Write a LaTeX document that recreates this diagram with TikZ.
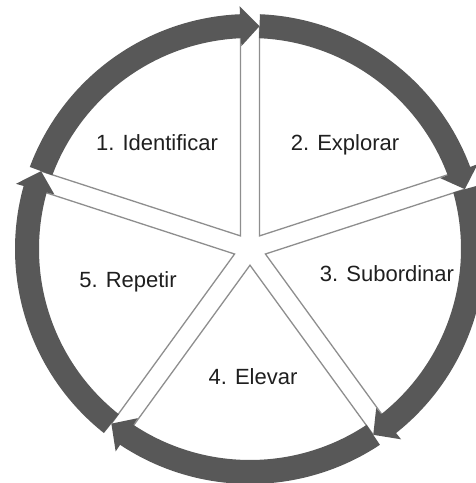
\documentclass[tikz,border=0pt]{standalone}
\usepackage{fontspec}
\setmainfont{Liberation Sans}

\definecolor{ringgray}{HTML}{585858}
\definecolor{linegray}{HTML}{8E8E8E}

\begin{document}
\begin{tikzpicture}[
  x=1pt, y=1pt,
  slice/.style={draw=linegray, fill=white, line width=1.3pt, line join=miter},
  ring/.style={fill=ringgray},
  lbl/.style={font=\fontsize{22}{26}\selectfont, text=black!88, anchor=base}
]
\useasboundingbox (-250,-234) rectangle (226,249);

% white slices, kept apart by the gaps
\foreach \g in {90,18,-54,-126,-198} {
  \draw[slice] ({\g-36}:16.2) -- ({\g-2.45}:222)
    arc[start angle={\g-2.45}, end angle={\g-69.55}, radius=222] -- cycle;
}

% outer ring of arrows, clockwise
\foreach \g in {90,18,-54,-126,-198} {
  \fill[ring] ({\g-2.44}:235)
    arc[start angle={\g-2.44}, end angle={\g-69.56}, radius=235]
    -- ({\g-69.56}:243) -- ({\g-74.44}:223) -- ({\g-69.56}:203)
    -- ({\g-69.56}:211)
    arc[start angle={\g-69.56}, end angle={\g-2.44}, radius=211] -- cycle;
}

\node[lbl] (ident) at (-93,99) {1. Identificar};
\node[lbl] (explo) at (95,99) {2. Explorar};
\node[lbl] (subord) at (137,-32) {3. Subordinar};
\node[lbl] (elev) at (3,-135) {4. Elevar};
\node[lbl] (repet) at (-122,-38) {5. Repetir};
\end{tikzpicture}
\end{document}
